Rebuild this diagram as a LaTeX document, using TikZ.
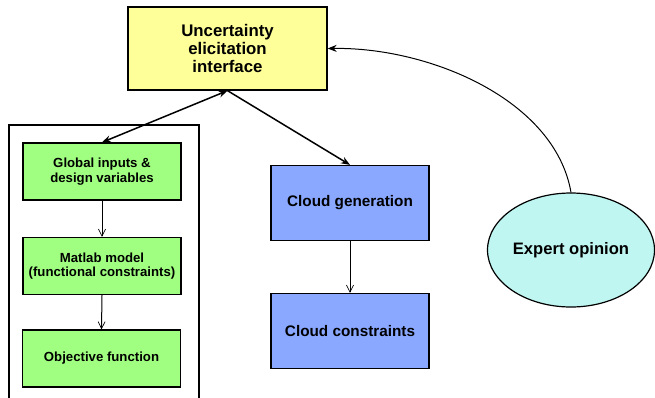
\documentclass[tikz,border=0pt]{standalone}
\usepackage{fontspec}
\setmainfont{Liberation Sans}
\usetikzlibrary{arrows.meta,shapes.geometric}
\definecolor{boxyellow}{RGB}{255,255,153}
\definecolor{boxgreen}{RGB}{160,255,128}
\definecolor{boxblue}{RGB}{138,168,255}
\definecolor{boxcyan}{RGB}{192,246,242}
\tikzset{
  block/.style={draw=black, line width=1.3pt, align=center, inner sep=0pt, font=\bfseries},
  mainbox/.style={block, fill=boxyellow, minimum width=199pt, minimum height=83pt,
    font=\bfseries\fontsize{16.8}{18}\selectfont},
  greenbox/.style={block, fill=boxgreen, minimum width=158pt, minimum height=57pt,
    font=\bfseries\fontsize{13.2}{14.5}\selectfont},
  bluebox/.style={block, fill=boxblue, minimum width=158pt, minimum height=75pt,
    font=\bfseries\fontsize{15.3}{17}\selectfont},
  expert/.style={ellipse, draw=black, line width=1.2pt, fill=boxcyan, inner sep=0pt,
    minimum width=167pt, minimum height=114pt, font=\bfseries\fontsize{16.6}{18}\selectfont},
  biglink/.style={line width=1.5pt, {Stealth[length=9pt,width=7pt]}-{Stealth[length=9pt,width=7pt]}},
  oneway/.style={line width=1.5pt, -{Stealth[length=9pt,width=7pt]}},
  curvelink/.style={line width=1pt, -{Stealth[length=9pt,width=7pt]}},
  smalllink/.style={line width=1pt, -{Straight Barb[length=7pt,width=7pt,line width=0.7pt]}},
  frame/.style={draw=black, line width=1.2pt}
}
\begin{document}
\begin{tikzpicture}[x=1pt, y=-1pt]
  \useasboundingbox (0,0) rectangle (655,397);

  % enclosing frame around the model blocks (runs off the bottom edge)
  \draw[frame] (9,405) -- (9,125) -- (199,125) -- (199,405);

  \node[mainbox] (uei) at (227.5,48.5) {Uncertainty\\elicitation\\interface};

  \node[greenbox] (g1) at (102,171.5) {Global inputs \&\\design variables};
  \node[greenbox] (g2) at (102,266) {Matlab model\\(functional constraints)};
  \node[greenbox] (g3) at (101.5,358.5) {Objective function};

  \node[bluebox] (c1) at (350,203) {Cloud generation};
  \node[bluebox] (c2) at (350,331) {Cloud constraints};

  \node[expert] (ex) at (571,250) {Expert opinion};

  % connectors
  \draw[biglink] (g1.north) -- (uei.south);
  \draw[oneway] (uei.south) -- (c1.north);
  \draw[smalllink] (g1.south) -- (g2.north);
  \draw[smalllink] (g2.south) -- (g3.north);
  \draw[smalllink] (c1.south) -- (c2.north);
  \draw[curvelink] (ex.north) .. controls (555,100) and (430,47) .. (uei.east);
\end{tikzpicture}
\end{document}
